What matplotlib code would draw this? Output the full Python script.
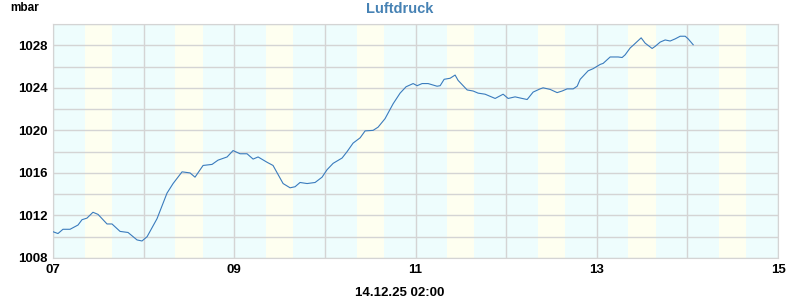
import matplotlib
matplotlib.use("Agg")
import matplotlib.pyplot as plt
import numpy as np

# Air pressure, time in day-of-month (Dec 2025)
days = [7.000, 7.055, 7.110, 7.188, 7.276, 7.320, 7.375, 7.441, 7.497, 7.596,
        7.651, 7.740, 7.828, 7.927, 7.982, 8.038, 8.148, 8.258, 8.325, 8.424,
        8.512, 8.567, 8.656, 8.755, 8.821, 8.921, 8.987, 9.064, 9.141, 9.208,
        9.263, 9.362, 9.428, 9.539, 9.616, 9.671, 9.726, 9.804, 9.892, 9.969,
        10.024, 10.091, 10.190, 10.245, 10.311, 10.389, 10.444, 10.532, 10.587, 10.664,
        10.753, 10.830, 10.896, 10.974, 11.018, 11.073, 11.139, 11.238, 11.272, 11.316,
        11.382, 11.437, 11.470, 11.570, 11.636, 11.691, 11.768, 11.879, 11.967, 12.022,
        12.099, 12.177, 12.232, 12.298, 12.375, 12.408, 12.486, 12.563, 12.618, 12.673,
        12.740, 12.784, 12.817, 12.905, 12.960, 13.038, 13.071, 13.148, 13.236, 13.280,
        13.313, 13.369, 13.402, 13.490, 13.534, 13.611, 13.645, 13.700, 13.755, 13.810,
        13.865, 13.921, 13.976, 14.009, 14.064]
pressure = [1010.47, 1010.3, 1010.7, 1010.7, 1011.1, 1011.6, 1011.75, 1012.3, 1012.1, 1011.2,
            1011.2, 1010.5, 1010.4, 1009.7, 1009.6, 1010.0, 1011.7, 1014.1, 1015.0, 1016.1,
            1016.0, 1015.6, 1016.7, 1016.8, 1017.2, 1017.5, 1018.1, 1017.8, 1017.8, 1017.3,
            1017.5, 1017.0, 1016.7, 1015.0, 1014.6, 1014.7, 1015.1, 1015.0, 1015.1, 1015.6,
            1016.3, 1016.9, 1017.4, 1018.0, 1018.8, 1019.3, 1019.95, 1020.0, 1020.3, 1021.1,
            1022.5, 1023.5, 1024.1, 1024.4, 1024.2, 1024.4, 1024.4, 1024.15, 1024.2, 1024.8,
            1024.9, 1025.2, 1024.7, 1023.8, 1023.7, 1023.5, 1023.4, 1023.0, 1023.4, 1023.0,
            1023.15, 1023.0, 1022.9, 1023.6, 1023.9, 1024.0, 1023.85, 1023.55, 1023.7, 1023.9,
            1023.9, 1024.15, 1024.8, 1025.6, 1025.8, 1026.2, 1026.3, 1026.9, 1026.9, 1026.85,
            1027.1, 1027.75, 1028.0, 1028.7, 1028.2, 1027.7, 1027.9, 1028.3, 1028.5, 1028.4,
            1028.6, 1028.85, 1028.85, 1028.6, 1028.05]

x_ticks = [7, 9, 11, 13, 15]
x_labels = ["07", "09", "11", "13", "15"]
y_ticks = [1008, 1012, 1016, 1020, 1024, 1028]
sunrise, sunset = 0.35, 0.65   # fraction of day

plt.rcParams['font.family'] = ['Liberation Sans', 'DejaVu Sans']

fig = plt.figure(figsize=(8, 3), dpi=100)
ax = fig.add_axes([53/800, 1 - 258/300, 725/800, 234/300])

ax.set_facecolor('#eefdfd')
for d in range(7, 15):
    ax.axvspan(d + sunrise, d + sunset, color='#fefff0', lw=0, zorder=0)

ax.plot(days, pressure, color='#3a7bbd', lw=0.8, zorder=3)

ax.set_xlim(7, 15)
ax.set_ylim(1008, 1030)
ax.set_xticks(x_ticks)
ax.set_xticklabels(x_labels)
ax.set_xticks(np.arange(7, 16), minor=True)
ax.set_yticks(y_ticks)
ax.set_yticks(np.arange(1008, 1031, 2), minor=True)
ax.grid(which='both', color='#d4d4d4', lw=1, zorder=1)
ax.set_axisbelow(True)
ax.tick_params(which='both', length=0, labelsize=9.5, pad=4)
ax.tick_params(axis='x', pad=4)
for lab in ax.get_xticklabels() + ax.get_yticklabels():
    lab.set_fontweight('bold')
for s in ax.spines.values():
    s.set_color('#d4d4d4')

fig.text(0.5, 1 - 9/300, 'Luftdruck', ha='center', va='center',
         fontsize=10.5, fontweight='bold', color='#4682b4')
fig.text(10/800, 1 - 8/300, 'mbar', ha='left', va='center',
         fontsize=8.5, fontweight='bold')
fig.text(0.5, 1 - 293/300, '14.12.25 02:00', ha='center', va='center',
         fontsize=9.5, fontweight='bold')

fig.savefig('out.png', dpi=100)
